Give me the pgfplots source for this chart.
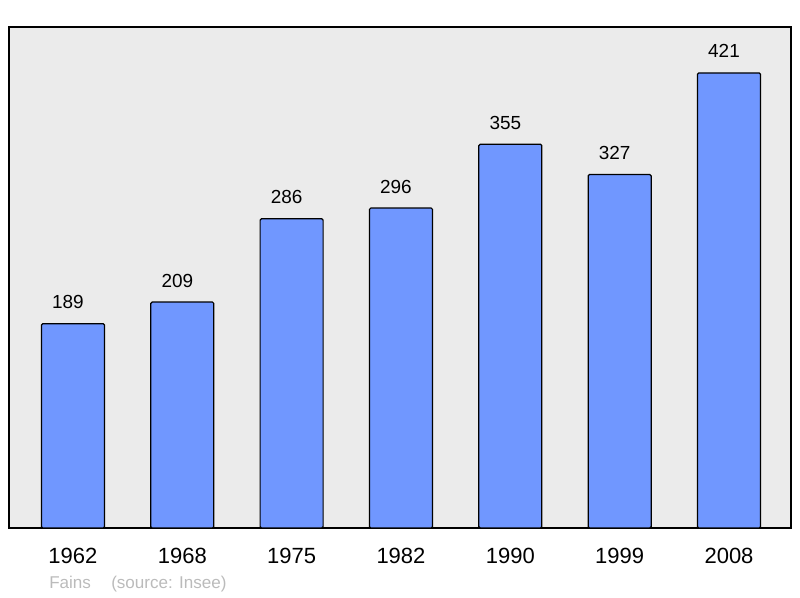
\documentclass[border=0pt]{standalone}
\usepackage{fontspec}
\setmainfont{Liberation Sans}
\usepackage{pgfplots}
\pgfplotsset{compat=1.18}
\definecolor{barblue}{HTML}{7097FF}
\definecolor{bggray}{HTML}{EBEBEB}
\definecolor{notegray}{HTML}{BBBBBB}

\begin{document}
\begin{tikzpicture}
% page frame: 800x598 px at 0.75pt per px
\path (0,0) rectangle (600pt,448.5pt);
\begin{axis}[
    at={(6.75pt,52.5pt)}, anchor=south west,
    scale only axis,
    width=586.5pt, height=375.75pt,
    xmin=-0.585, xmax=6.567,
    ymin=0, ymax=463.5,
    axis background/.style={fill=bggray},
    axis line style={line width=1.4pt, black},
    ytick=\empty,
    xtick=data,
    xticklabels={1962,1968,1975,1982,1990,1999,2008},
    major tick length=0pt,
    xticklabel style={font=\fontsize{16.5pt}{18pt}\selectfont, anchor=base, inner sep=0pt, yshift=-27pt},
    /pgf/number format/assume math mode=true,
    ybar, bar width=47.25pt,
    nodes near coords,
    every node near coord/.append style={font=\fontsize{14.2pt}{16pt}\selectfont, anchor=base, inner sep=0pt, yshift=11.25pt, xshift=-3.75pt},
]
\addplot[draw=black, line width=0.9pt, fill=barblue, rounded corners=1pt] coordinates {
    (0,189) (1,209) (2,286) (3,296) (4,355) (5,327) (6,421)
};
\end{axis}
\node[anchor=base west, inner sep=0pt, text=notegray, font=\fontsize{12.8pt}{14pt}\selectfont] at (36.75pt,6.75pt) {Fains};
\node[anchor=base west, inner sep=0pt, text=notegray, font=\fontsize{12.8pt}{14pt}\selectfont] at (83.25pt,6.75pt) {(source: Insee)};
\end{tikzpicture}
\end{document}
